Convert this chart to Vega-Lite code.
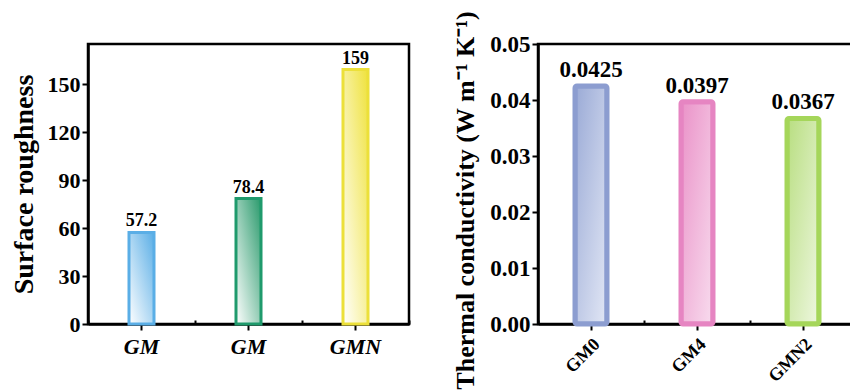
{
  "$schema": "https://vega.github.io/schema/vega-lite/v6.json",
  "padding": {"left": 8, "top": 9, "right": 0, "bottom": 0},
  "bounds": "flush",
  "spacing": 129,
  "resolve": {"scale": {"stroke": "independent", "fill": "independent"}},
  "config": {
    "view": {"stroke": "black", "strokeWidth": 2.5},
    "font": "Liberation Serif",
    "axis": {
      "domainColor": "black", "domainWidth": 2.5, "tickColor": "black", "tickWidth": 2,
      "labelColor": "black", "labelFont": "Liberation Serif", "labelFontWeight": "bold",
      "titleFont": "Liberation Serif", "titleFontWeight": "bold", "titleColor": "black",
      "grid": false
    }
  },
  "hconcat": [
    {
      "width": 321, "height": 280,
      "data": {"values": [
        {"key": "GM-1", "roughness": 57.2},
        {"key": "GM-2", "roughness": 78.4},
        {"key": "GMN-3", "roughness": 159}
      ]},
      "layer": [
        {
          "mark": {"type": "bar", "size": 25, "strokeWidth": 3},
          "encoding": {
            "x": {"field": "key", "type": "nominal", "sort": null,
                  "scale": {"paddingInner": 0, "paddingOuter": 0},
                  "axis": {"orient": "bottom", "title": null, "labelAngle": 0, "labelFontSize": 22, "labelFontStyle": "italic",
                           "labelPadding": 6, "tickSize": 6, "labelExpr": "split(datum.label, '-')[0]"}},
            "y": {"field": "roughness", "type": "quantitative",
                  "scale": {"domain": [0, 175], "nice": false, "zero": true},
                  "axis": {"title": "Surface roughness", "titleFontSize": 28, "titlePadding": 9,
                           "labelFontSize": 22, "labelPadding": 2,
                           "values": [0, 15, 30, 45, 60, 75, 90, 105, 120, 135, 150, 165],
                           "labelExpr": "datum.value % 30 == 0 ? datum.label : ''",
                           "tickSize": {"condition": {"test": "datum.value % 30 != 0", "value": -4}, "value": 6}}},
            "stroke": {"field": "key", "type": "nominal", "legend": null,
                       "scale": {"domain": ["GM-1", "GM-2", "GMN-3"], "range": ["#5aaee6", "#1f9a6c", "#ece03a"]}},
            "fill": {
              "condition": [
                {"test": "datum.key == 'GM-1'", "value": {"gradient": "linear", "x1": 0, "y1": 1, "x2": 1, "y2": 0,
                  "stops": [{"offset": 0, "color": "#ffffff"}, {"offset": 1, "color": "#5aaee6"}]}},
                {"test": "datum.key == 'GM-2'", "value": {"gradient": "linear", "x1": 0, "y1": 1, "x2": 1, "y2": 0,
                  "stops": [{"offset": 0, "color": "#ffffff"}, {"offset": 1, "color": "#2a9a6c"}]}}
              ],
              "value": {"gradient": "linear", "x1": 0, "y1": 1, "x2": 1, "y2": 0,
                "stops": [{"offset": 0, "color": "#ffffff"}, {"offset": 1, "color": "#efe23c"}]}
            }
          }
        },
        {
          "mark": {"type": "text", "baseline": "bottom", "dy": -2, "fontSize": 18, "fontWeight": "bold", "font": "Liberation Serif", "color": "black"},
          "encoding": {
            "x": {"field": "key", "type": "nominal", "sort": null,
                  "axis": {"orient": "bottom", "title": null, "labels": false, "domain": false, "tickBand": "extent", "tickSize": -4}},
            "y": {"field": "roughness", "type": "quantitative"},
            "text": {"field": "roughness", "type": "quantitative"}
          }
        }
      ],
      "resolve": {"axis": {"x": "independent"}}
    },
    {
      "width": 318, "height": 280,
      "data": {"values": [
        {"sample": "GM0", "k": 0.0425},
        {"sample": "GM4", "k": 0.0397},
        {"sample": "GMN2", "k": 0.0367}
      ]},
      "layer": [
        {
          "mark": {"type": "bar", "size": 32, "strokeWidth": 5, "cornerRadius": 2},
          "encoding": {
            "x": {"field": "sample", "type": "nominal", "sort": null,
                  "scale": {"paddingInner": 0, "paddingOuter": 0},
                  "axis": {"orient": "bottom", "title": null, "labelAngle": -45, "labelFontSize": 18, "labelPadding": 5, "tickSize": 6}},
            "y": {"field": "k", "type": "quantitative",
                  "scale": {"domain": [0, 0.05], "nice": false},
                  "axis": {"title": "Thermal conductivity (W m⁻¹ K⁻¹)", "titleFontSize": 26, "titlePadding": 11, "titleY": 156,
                           "labelFontSize": 23, "labelPadding": 2,
                           "values": [0, 0.005, 0.01, 0.015, 0.02, 0.025, 0.03, 0.035, 0.04, 0.045, 0.05],
                           "labelExpr": "round(datum.value * 1000) % 10 == 0 ? format(datum.value, '.2f') : ''",
                           "tickSize": {"condition": {"test": "round(datum.value * 1000) % 10 != 0", "value": -4}, "value": 6}}},
            "stroke": {"field": "sample", "type": "nominal", "legend": null,
                       "scale": {"domain": ["GM0", "GM4", "GMN2"], "range": ["#8c9dd0", "#e685c2", "#a5d65a"]}},
            "fill": {
              "condition": [
                {"test": "datum.sample == 'GM0'", "value": {"gradient": "linear", "x1": 0, "y1": 0, "x2": 1, "y2": 1,
                  "stops": [{"offset": 0, "color": "#9aaad6"}, {"offset": 1, "color": "#e2e7f5"}]}},
                {"test": "datum.sample == 'GM4'", "value": {"gradient": "linear", "x1": 0, "y1": 0, "x2": 1, "y2": 1,
                  "stops": [{"offset": 0, "color": "#ea92c8"}, {"offset": 1, "color": "#f8dcee"}]}}
              ],
              "value": {"gradient": "linear", "x1": 0, "y1": 0, "x2": 1, "y2": 1,
                "stops": [{"offset": 0, "color": "#b8de80"}, {"offset": 1, "color": "#eef7e0"}]}
            }
          }
        },
        {
          "mark": {"type": "text", "baseline": "bottom", "dy": -4, "fontSize": 23, "fontWeight": "bold", "font": "Liberation Serif", "color": "black"},
          "encoding": {
            "x": {"field": "sample", "type": "nominal", "sort": null,
                  "axis": {"orient": "bottom", "title": null, "labels": false, "domain": false, "tickBand": "extent", "tickSize": -4}},
            "y": {"field": "k", "type": "quantitative"},
            "text": {"field": "k", "type": "quantitative"}
          }
        }
      ],
      "resolve": {"axis": {"x": "independent"}}
    }
  ]
}
